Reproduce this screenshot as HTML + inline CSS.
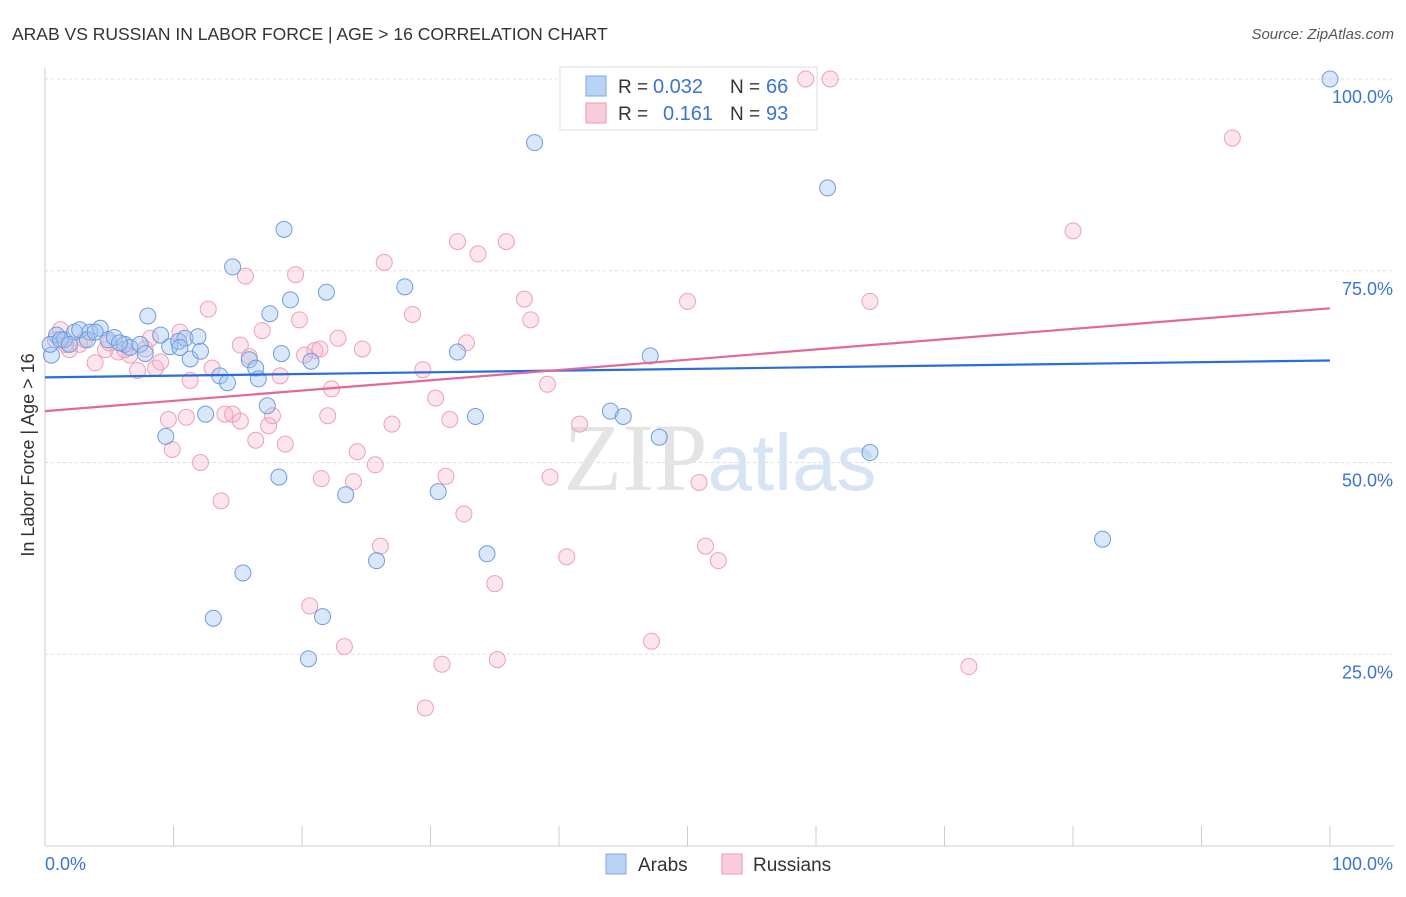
<!DOCTYPE html>
<html><head><meta charset="utf-8"><style>
body{margin:0;background:#fff;font-family:"Liberation Sans",sans-serif}
</style></head><body>
<svg width="1406" height="892" xmlns="http://www.w3.org/2000/svg">
<text x="12" y="40" font-size="17.5" fill="#333">ARAB VS RUSSIAN IN LABOR FORCE | AGE &gt; 16 CORRELATION CHART</text>
<text x="1394" y="39" font-size="15" fill="#555" font-style="italic" text-anchor="end">Source: ZipAtlas.com</text>
<g id="grid"></g>
<text x="720" y="490" font-size="96" fill="#e4e4e4" text-anchor="middle" font-family="Liberation Serif,serif">ZIP<tspan fill="#d6e4f4" font-family="Liberation Sans,sans-serif" font-size="80">atlas</tspan></text>
<text transform="translate(34,455) rotate(-90)" font-size="18" fill="#333" text-anchor="middle">In Labor Force | Age &gt; 16</text>
<g>
<rect x="560" y="67" width="257" height="63" fill="#fff" stroke="#ddd"/>
<rect x="586" y="76" width="20" height="20" fill="#b9d3f5" stroke="#7aa7e6"/>
<rect x="586" y="103" width="20" height="20" fill="#f9ccd9" stroke="#ec9ab3"/>
<text x="618" y="93" font-size="19" fill="#333">R =</text>
<text x="653" y="93" font-size="20" fill="#3b73d6">0.032</text>
<text x="730" y="93" font-size="19" fill="#333">N =</text>
<text x="766" y="93" font-size="20" fill="#3b73d6">66</text>
<text x="618" y="120" font-size="19" fill="#333">R =</text>
<text x="663" y="120" font-size="20" fill="#3b73d6">0.161</text>
<text x="730" y="120" font-size="19" fill="#333">N =</text>
<text x="766" y="120" font-size="20" fill="#3b73d6">93</text>
</g>
<g id="pts"></g>
<g id="lines"></g>
<g>
<rect x="606" y="854" width="20" height="20" fill="#b9d3f5" stroke="#7aa7e6"/>
<text x="638" y="871" font-size="19" fill="#333">Arabs</text>
<rect x="722" y="854" width="20" height="20" fill="#f9ccd9" stroke="#ec9ab3"/>
<text x="753" y="871" font-size="19" fill="#333">Russians</text>
</g>
</svg>
<script>
const yTicks=[25,50,75,100];
const yTickLabels=["25.0%","50.0%","75.0%","100.0%"];
const xTicks=[0,10,20,30,40,50,60,70,80,90,100];
const arabsX=[0.9,1.5,2.3,2.7,3.5,4.3,4.9,5.4,6.2,6.6,7.4,8,7.8,9,9.7,10.4,10.9,11.3,11.9,12.1,12.5,9.4,13.6,14.2,14.6,15.4,13.1,15.9,16.4,16.6,17.3,17.5,18.2,18.4,18.6,19.1,20.7,20.5,21.6,21.9,23.4,25.8,28,30.6,32.1,33.5,34.4,38.1,44,45,47.1,47.8,60.9,64.2,82.3,100,0.5,0.4,1.2,3.3,5.8,3.9,10.5,1.9];
const arabsY=[66.6,66,67,67.3,67,67.5,66,66.3,65.4,65,65.4,69.1,64.2,66.6,65.1,65.8,66.2,63.5,66.4,64.5,56.3,53.4,61.3,60.4,75.5,35.6,29.7,63.4,62.3,60.9,57.4,69.4,48.1,64.2,80.4,71.2,63.2,24.4,29.9,72.2,45.8,37.2,72.9,46.2,64.4,56,38.1,91.7,56.7,56,63.9,53.3,85.8,51.3,40,100,64,65.4,66,66,65.6,67,65,65.4];
const rusX=[0.8,1.9,2.7,3.9,4.7,5.7,6.6,7.2,7.8,8.2,8.6,9,9.6,9.9,10.5,11,11.3,12.1,12.7,13,13.7,14,14.6,15.2,15.6,15.9,16.4,16.9,17.4,17.7,18.3,18.7,19.5,19.8,20.2,20.6,21,21.5,22,22.3,22.8,23.3,24,24.3,24.7,25.7,26.1,26.4,27,28.6,29.4,29.6,30.4,30.9,31.2,31.5,32.1,32.6,32.8,33.7,35,35.2,35.9,37.3,37.8,39.1,39.3,40.6,41.6,47.2,50.0,50.9,51.4,52.4,59.2,61.1,64.2,71.9,80,92.4,1.2,3.1,5,6.2,15.2,21.4,1.6];
const rusY=[66,64.7,65.4,63,64.7,64.4,64,62,64.8,66.2,62.3,63.1,55.6,51.7,67,55.9,60.7,50,70,62.3,45,56.3,56.3,65.3,74.3,63.8,52.9,67.2,54.8,56.1,61.3,52.4,74.5,68.6,64,31.3,64.6,47.9,56.1,59.6,66.2,26,47.5,51.4,64.8,49.7,39.1,76.1,55,69.3,62.1,18,58.4,23.7,48.2,55.6,78.8,43.3,65.6,77.2,34.2,24.3,78.8,71.3,68.6,60.2,48.1,37.7,55,26.7,71,47.4,39.1,37.2,100,100,71,23.4,80.2,92.3,67.3,66,65.6,64.7,55.4,64.8,65.4];
const trendArabs=[61.1,63.3];
const trendRus=[56.7,70.1];
const sx=v=>45+v*12.85, sy=v=>846-v*7.67;
const NS="http://www.w3.org/2000/svg";
function mk(t,a,p){const e=document.createElementNS(NS,t);for(const k in a)e.setAttribute(k,a[k]);p.appendChild(e);return e;}
const g=document.getElementById('grid');
const ax=mk('line',{x1:45,y1:68,x2:45,y2:846,stroke:'#ccc'},g);


const bx=mk('line',{x1:45,y1:846,x2:1394,y2:846,stroke:'#ccc'},g);


yTicks.forEach((v,i)=>{
 const l=mk('line',{x1:45,y1:sy(v),x2:1394,y2:sy(v),stroke:'#ddd','stroke-dasharray':'3,3'},g);
 
 
 const t=mk('text',{x:1393,y:sy(v)+24,'font-size':18,fill:'#3b73d6','text-anchor':'end'},g);
 t.textContent=yTickLabels[i];
 
 
});
xTicks.forEach(v=>{
 const l=mk('line',{x1:sx(v),y1:826,x2:sx(v),y2:846,stroke:'#ccc'},g);
 
 
});
const t0=mk('text',{x:45,y:870,'font-size':18,fill:'#3b73d6'},g);t0.textContent='0.0%';


const t1=mk('text',{x:1393,y:870,'font-size':18,fill:'#3b73d6','text-anchor':'end'},g);t1.textContent='100.0%';


const p=document.getElementById('pts');
rusX.forEach((x,i)=>{const c=mk('circle',{cx:sx(x),cy:sy(rusY[i]),r:8,fill:'rgba(246,180,200,0.35)',stroke:'#eea0b8','stroke-width':1},p);
 
 });
arabsX.forEach((x,i)=>{const c=mk('circle',{cx:sx(x),cy:sy(arabsY[i]),r:8,fill:'rgba(160,196,240,0.4)',stroke:'#6d9de0','stroke-width':1},p);
 
 });
const L=document.getElementById('lines');
const la=mk('line',{x1:sx(0),y1:sy(trendArabs[0]),x2:sx(100),y2:sy(trendArabs[1]),stroke:'#2a6dd8','stroke-width':2.2},L);


const lr=mk('line',{x1:sx(0),y1:sy(trendRus[0]),x2:sx(100),y2:sy(trendRus[1]),stroke:'#e4679a','stroke-width':2.2},L);


</script>
</body></html>
